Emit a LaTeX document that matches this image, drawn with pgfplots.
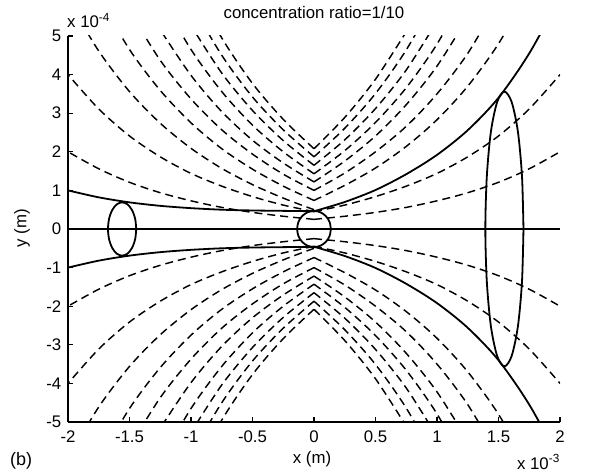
\documentclass[border=0pt]{standalone}
\usepackage{pgfplots}
\pgfplotsset{compat=1.18}
\usepackage{fontspec}
\setmainfont{Liberation Sans}
\begin{document}
\fontsize{16.8}{19}\selectfont
\begin{tikzpicture}[font=\fontsize{16.8}{19}\selectfont]
\path[use as bounding box] (-68pt,-50pt) rectangle (528pt,422pt);
\begin{axis}[
  scale only axis, width=492pt, height=386pt,
  xmin=-2, xmax=2, ymin=-5, ymax=5,
  axis x line*=bottom, axis y line*=left,
  axis line style={black, line width=1.5pt, -},
  xtick={-2,-1.5,-1,-0.5,0,0.5,1,1.5,2},
  xticklabels={-2,-1.5,-1,-0.5,0,0.5,1,1.5,2},
  ytick={-5,-4,-3,-2,-1,0,1,2,3,4,5},
  yticklabels={-5,-4,-3,-2,-1,0,1,2,3,4,5},
  tick align=inside, major tick length=5pt,
  tick style={black, line width=1.1pt},
  ticklabel style={font=\fontsize{16.8}{19}\selectfont},
  xticklabel style={yshift=-3pt},
  yticklabel style={xshift=-1pt},
  dsh/.style={black, line width=1.45pt, dash pattern=on 8pt off 5pt, smooth},
  sol/.style={black, line width=1.8pt, smooth},
]
% ---- solid axis line y=0
\addplot[black, line width=1.8pt] coordinates {(-2,0)(2,0)};
% ---- envelopes
\addplot[sol] coordinates {(-2,1.0)(-1.75,0.82)(-1.5,0.69)(-1.25,0.60)(-1,0.54)(-0.75,0.50)(-0.5,0.48)(-0.25,0.47)(0,0.46)};
\addplot[sol] coordinates {(0,0.46)(0.25,0.70)(0.5,1.01)(0.75,1.42)(1,1.92)(1.25,2.56)(1.5,3.40)(1.75,4.55)(2,6.0)};
\addplot[sol] coordinates {(-2,-1.0)(-1.75,-0.82)(-1.5,-0.69)(-1.25,-0.60)(-1,-0.54)(-0.75,-0.50)(-0.5,-0.48)(-0.25,-0.47)(0,-0.46)};
\addplot[sol] coordinates {(0,-0.46)(0.25,-0.70)(0.5,-1.01)(0.75,-1.42)(1,-1.92)(1.25,-2.56)(1.5,-3.40)(1.75,-4.55)(2,-6.0)};
% ---- ellipses
\addplot[sol] coordinates {(-1.445,0)(-1.454,0.264)(-1.479,0.488)(-1.516,0.638)(-1.56,0.69)(-1.604,0.638)(-1.641,0.488)(-1.666,0.264)(-1.675,0)(-1.666,-0.264)(-1.641,-0.488)(-1.604,-0.638)(-1.56,-0.69)(-1.516,-0.638)(-1.479,-0.488)(-1.454,-0.264)(-1.445,0)};
\addplot[sol] coordinates {(0.137,0)(0.127,0.180)(0.097,0.332)(0.052,0.434)(0,0.47)(-0.052,0.434)(-0.097,0.332)(-0.127,0.180)(-0.137,0)(-0.127,-0.180)(-0.097,-0.332)(-0.052,-0.434)(0,-0.47)(0.052,-0.434)(0.097,-0.332)(0.127,-0.180)(0.137,0)};
\addplot[sol] coordinates {(1.703,0)(1.691,1.362)(1.658,2.517)(1.607,3.289)(1.548,3.56)(1.489,3.289)(1.438,2.517)(1.405,1.362)(1.393,0)(1.405,-1.362)(1.438,-2.517)(1.489,-3.289)(1.548,-3.56)(1.607,-3.289)(1.658,-2.517)(1.691,-1.362)(1.703,0)};
% ---- dashed, upper right
\addplot[dsh] coordinates {(0,0.25)(0.25,0.33)(0.5,0.43)(0.75,0.56)(1,0.73)(1.25,0.94)(1.5,1.21)(1.75,1.56)(2,2.00)};
\addplot[dsh] coordinates {(0,0.45)(0.25,0.62)(0.5,0.84)(0.75,1.11)(1,1.44)(1.25,1.87)(1.5,2.41)(1.75,3.11)(2,4.00)};
\addplot[dsh] coordinates {(0,0.74)(0.25,1.13)(0.5,1.58)(0.75,2.14)(1,2.83)(1.25,3.70)(1.5,4.80)(1.75,6.20)};
\addplot[dsh] coordinates {(0,1.00)(0.25,1.45)(0.5,2.00)(0.75,2.66)(1,3.50)(1.25,4.55)(1.5,5.90)};
\addplot[dsh] coordinates {(0,1.22)(0.25,1.76)(0.5,2.41)(0.75,3.22)(1,4.22)(1.25,5.49)};
\addplot[dsh] coordinates {(0,1.43)(0.25,2.03)(0.5,2.76)(0.75,3.66)(1,4.79)(1.25,6.23)};
\addplot[dsh] coordinates {(0,1.65)(0.25,2.31)(0.5,3.12)(0.75,4.12)(1,5.38)};
\addplot[dsh] coordinates {(0,1.87)(0.25,2.61)(0.5,3.51)(0.75,4.64)(1,6.05)};
\addplot[dsh] coordinates {(0,2.08)(0.25,2.89)(0.5,3.88)(0.75,5.11)};
% ---- dashed, upper left
\addplot[dsh] coordinates {(0,0.25)(-0.25,0.33)(-0.5,0.43)(-0.75,0.56)(-1,0.73)(-1.25,0.94)(-1.5,1.21)(-1.75,1.56)(-2,2.00)};
\addplot[dsh] coordinates {(0,0.45)(-0.25,0.62)(-0.5,0.84)(-0.75,1.11)(-1,1.44)(-1.25,1.87)(-1.5,2.41)(-1.75,3.11)(-2,4.00)};
\addplot[dsh] coordinates {(0,0.50)(-0.25,0.80)(-0.5,1.15)(-0.75,1.57)(-1,2.09)(-1.25,2.74)(-1.5,3.56)(-1.75,4.61)(-2,5.94)};
\addplot[dsh] coordinates {(0,0.74)(-0.25,1.11)(-0.5,1.55)(-0.75,2.08)(-1,2.75)(-1.25,3.59)(-1.5,4.65)(-1.75,6.01)};
\addplot[dsh] coordinates {(0,1.00)(-0.25,1.42)(-0.5,1.94)(-0.75,2.57)(-1,3.37)(-1.25,4.37)(-1.5,5.65)};
\addplot[dsh] coordinates {(0,1.22)(-0.25,1.71)(-0.5,2.30)(-0.75,3.04)(-1,3.98)(-1.25,5.16)};
\addplot[dsh] coordinates {(0,1.43)(-0.25,2.00)(-0.5,2.69)(-0.75,3.56)(-1,4.65)(-1.25,6.03)};
\addplot[dsh] coordinates {(0,1.65)(-0.25,2.29)(-0.5,3.07)(-0.75,4.04)(-1,5.27)};
\addplot[dsh] coordinates {(0,1.87)(-0.25,2.57)(-0.5,3.42)(-0.75,4.50)(-1,5.85)};
\addplot[dsh] coordinates {(0,2.08)(-0.25,2.84)(-0.5,3.77)(-0.75,4.95)(-1,6.43)};
% ---- dashed, lower right
\addplot[dsh] coordinates {(0,-0.25)(0.25,-0.33)(0.5,-0.43)(0.75,-0.56)(1,-0.73)(1.25,-0.94)(1.5,-1.21)(1.75,-1.56)(2,-2.00)};
\addplot[dsh] coordinates {(0,-0.45)(0.25,-0.62)(0.5,-0.84)(0.75,-1.11)(1,-1.44)(1.25,-1.87)(1.5,-2.41)(1.75,-3.11)(2,-4.00)};
\addplot[dsh] coordinates {(0,-0.74)(0.25,-1.13)(0.5,-1.58)(0.75,-2.14)(1,-2.83)(1.25,-3.70)(1.5,-4.80)(1.75,-6.20)};
\addplot[dsh] coordinates {(0,-1.00)(0.25,-1.45)(0.5,-2.00)(0.75,-2.66)(1,-3.50)(1.25,-4.55)(1.5,-5.90)};
\addplot[dsh] coordinates {(0,-1.22)(0.25,-1.76)(0.5,-2.41)(0.75,-3.22)(1,-4.22)(1.25,-5.49)};
\addplot[dsh] coordinates {(0,-1.43)(0.25,-2.03)(0.5,-2.76)(0.75,-3.66)(1,-4.79)(1.25,-6.23)};
\addplot[dsh] coordinates {(0,-1.65)(0.25,-2.31)(0.5,-3.12)(0.75,-4.12)(1,-5.38)};
\addplot[dsh] coordinates {(0,-1.87)(0.25,-2.61)(0.5,-3.51)(0.75,-4.64)(1,-6.05)};
\addplot[dsh] coordinates {(0,-2.08)(0.25,-2.89)(0.5,-3.88)(0.75,-5.11)};
% ---- dashed, lower left
\addplot[dsh] coordinates {(0,-0.25)(-0.25,-0.33)(-0.5,-0.43)(-0.75,-0.56)(-1,-0.73)(-1.25,-0.94)(-1.5,-1.21)(-1.75,-1.56)(-2,-2.00)};
\addplot[dsh] coordinates {(0,-0.45)(-0.25,-0.62)(-0.5,-0.84)(-0.75,-1.11)(-1,-1.44)(-1.25,-1.87)(-1.5,-2.41)(-1.75,-3.11)(-2,-4.00)};
\addplot[dsh] coordinates {(0,-0.50)(-0.25,-0.80)(-0.5,-1.15)(-0.75,-1.57)(-1,-2.09)(-1.25,-2.74)(-1.5,-3.56)(-1.75,-4.61)(-2,-5.94)};
\addplot[dsh] coordinates {(0,-0.74)(-0.25,-1.11)(-0.5,-1.55)(-0.75,-2.08)(-1,-2.75)(-1.25,-3.59)(-1.5,-4.65)(-1.75,-6.01)};
\addplot[dsh] coordinates {(0,-1.00)(-0.25,-1.42)(-0.5,-1.94)(-0.75,-2.57)(-1,-3.37)(-1.25,-4.37)(-1.5,-5.65)};
\addplot[dsh] coordinates {(0,-1.22)(-0.25,-1.71)(-0.5,-2.30)(-0.75,-3.04)(-1,-3.98)(-1.25,-5.16)};
\addplot[dsh] coordinates {(0,-1.43)(-0.25,-2.00)(-0.5,-2.69)(-0.75,-3.56)(-1,-4.65)(-1.25,-6.03)};
\addplot[dsh] coordinates {(0,-1.65)(-0.25,-2.29)(-0.5,-3.07)(-0.75,-4.04)(-1,-5.27)};
\addplot[dsh] coordinates {(0,-1.87)(-0.25,-2.57)(-0.5,-3.42)(-0.75,-4.50)(-1,-5.85)};
\addplot[dsh] coordinates {(0,-2.08)(-0.25,-2.84)(-0.5,-3.77)(-0.75,-4.95)(-1,-6.43)};
\end{axis}
\node[anchor=base] at (246pt,403pt) {concentration ratio=1/10};
\node[anchor=base west, inner sep=0pt] at (-1pt,394pt) {x 10\textsuperscript{-4}};
\node[anchor=base east, inner sep=0pt] at (492pt,-47pt) {x 10\textsuperscript{-3}};
\node[anchor=base west, inner sep=0pt, font=\fontsize{18}{20}\selectfont] at (-58pt,-43pt) {(b)};
\node[anchor=base, inner sep=0pt] at (244pt,-41pt) {x (m)};
\node[rotate=90, inner sep=0pt] at (-46pt,194pt) {y (m)};
\end{tikzpicture}
\end{document}
